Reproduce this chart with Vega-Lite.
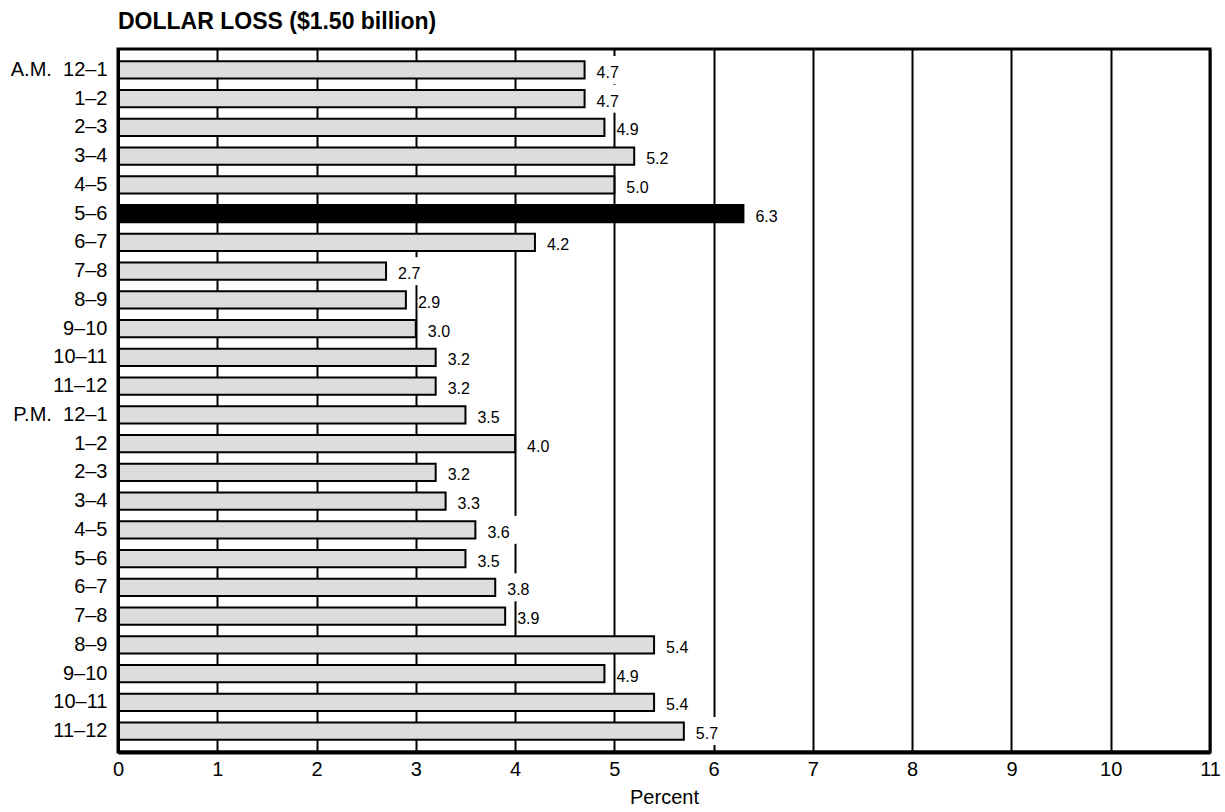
{
  "$schema": "https://vega.github.io/schema/vega-lite/v6.json",
  "autosize": "none",
  "width": 1092,
  "height": 703,
  "padding": {"left": 118, "top": 49, "right": 15, "bottom": 60},
  "background": "white",
  "title": {
    "text": "DOLLAR LOSS ($1.50 billion)",
    "anchor": "start",
    "frame": "group",
    "font": "Liberation Sans",
    "fontSize": 23,
    "fontWeight": "bold",
    "color": "black",
    "offset": 15
  },
  "config": {
    "view": {"stroke": "black", "strokeWidth": 3},
    "font": "Liberation Sans"
  },
  "data": {
    "values": [
      {"slot": "AM 12–1", "pct": 4.7, "peak": "no"},
      {"slot": "AM 1–2", "pct": 4.7, "peak": "no"},
      {"slot": "AM 2–3", "pct": 4.9, "peak": "no"},
      {"slot": "AM 3–4", "pct": 5.2, "peak": "no"},
      {"slot": "AM 4–5", "pct": 5.0, "peak": "no"},
      {"slot": "AM 5–6", "pct": 6.3, "peak": "yes"},
      {"slot": "AM 6–7", "pct": 4.2, "peak": "no"},
      {"slot": "AM 7–8", "pct": 2.7, "peak": "no"},
      {"slot": "AM 8–9", "pct": 2.9, "peak": "no"},
      {"slot": "AM 9–10", "pct": 3.0, "peak": "no"},
      {"slot": "AM 10–11", "pct": 3.2, "peak": "no"},
      {"slot": "AM 11–12", "pct": 3.2, "peak": "no"},
      {"slot": "PM 12–1", "pct": 3.5, "peak": "no"},
      {"slot": "PM 1–2", "pct": 4.0, "peak": "no"},
      {"slot": "PM 2–3", "pct": 3.2, "peak": "no"},
      {"slot": "PM 3–4", "pct": 3.3, "peak": "no"},
      {"slot": "PM 4–5", "pct": 3.6, "peak": "no"},
      {"slot": "PM 5–6", "pct": 3.5, "peak": "no"},
      {"slot": "PM 6–7", "pct": 3.8, "peak": "no"},
      {"slot": "PM 7–8", "pct": 3.9, "peak": "no"},
      {"slot": "PM 8–9", "pct": 5.4, "peak": "no"},
      {"slot": "PM 9–10", "pct": 4.9, "peak": "no"},
      {"slot": "PM 10–11", "pct": 5.4, "peak": "no"},
      {"slot": "PM 11–12", "pct": 5.7, "peak": "no"}
    ]
  },
  "encoding": {
    "y": {
      "field": "slot",
      "type": "nominal",
      "sort": null,
      "scale": {"paddingInner": 0.4, "paddingOuter": 0.43},
      "axis": {
        "title": null,
        "domain": true,
        "domainColor": "black",
        "domainWidth": 3,
        "ticks": false,
        "labelPadding": 11,
        "labelFontSize": 20,
        "labelColor": "black",
        "labelFont": "Liberation Sans",
        "labelExpr": "datum.value == 'AM 12–1' ? 'A.M.\u00a0\u00a012–1' : datum.value == 'PM 12–1' ? 'P.M.\u00a0\u00a012–1' : slice(datum.value, 3)"
      }
    },
    "x": {
      "field": "pct",
      "type": "quantitative",
      "scale": {"domain": [0, 11], "nice": false},
      "axis": {
        "title": "Percent",
        "titleFont": "Liberation Sans",
        "titleFontSize": 20,
        "titleFontWeight": "normal",
        "titleColor": "black",
        "titlePadding": 8,
        "values": [0, 1, 2, 3, 4, 5, 6, 7, 8, 9, 10, 11],
        "grid": true,
        "gridColor": "black",
        "gridWidth": 2,
        "gridOpacity": 1,
        "ticks": false,
        "domain": true,
        "domainColor": "black",
        "domainWidth": 4,
        "labelPadding": 7,
        "labelFontSize": 20,
        "labelColor": "black",
        "labelFont": "Liberation Sans",
        "labelFlush": false
      }
    }
  },
  "layer": [
    {
      "mark": {"type": "rect", "fill": "white", "xOffset": 12, "x2Offset": 42, "height": {"band": 1.62}},
      "encoding": {
        "x2": {"field": "pct"}
      }
    },
    {
      "mark": {"type": "bar", "stroke": "black", "strokeWidth": 2},
      "encoding": {
        "fill": {
          "field": "peak",
          "type": "nominal",
          "scale": {"domain": ["no", "yes"], "range": ["#dddddd", "black"]},
          "legend": null
        }
      }
    },
    {
      "mark": {"type": "text", "align": "left", "baseline": "middle", "dx": 12, "dy": 3, "fontSize": 16, "font": "Liberation Sans", "color": "black"},
      "encoding": {
        "text": {"field": "pct", "type": "quantitative", "format": ".1f"}
      }
    }
  ]
}
